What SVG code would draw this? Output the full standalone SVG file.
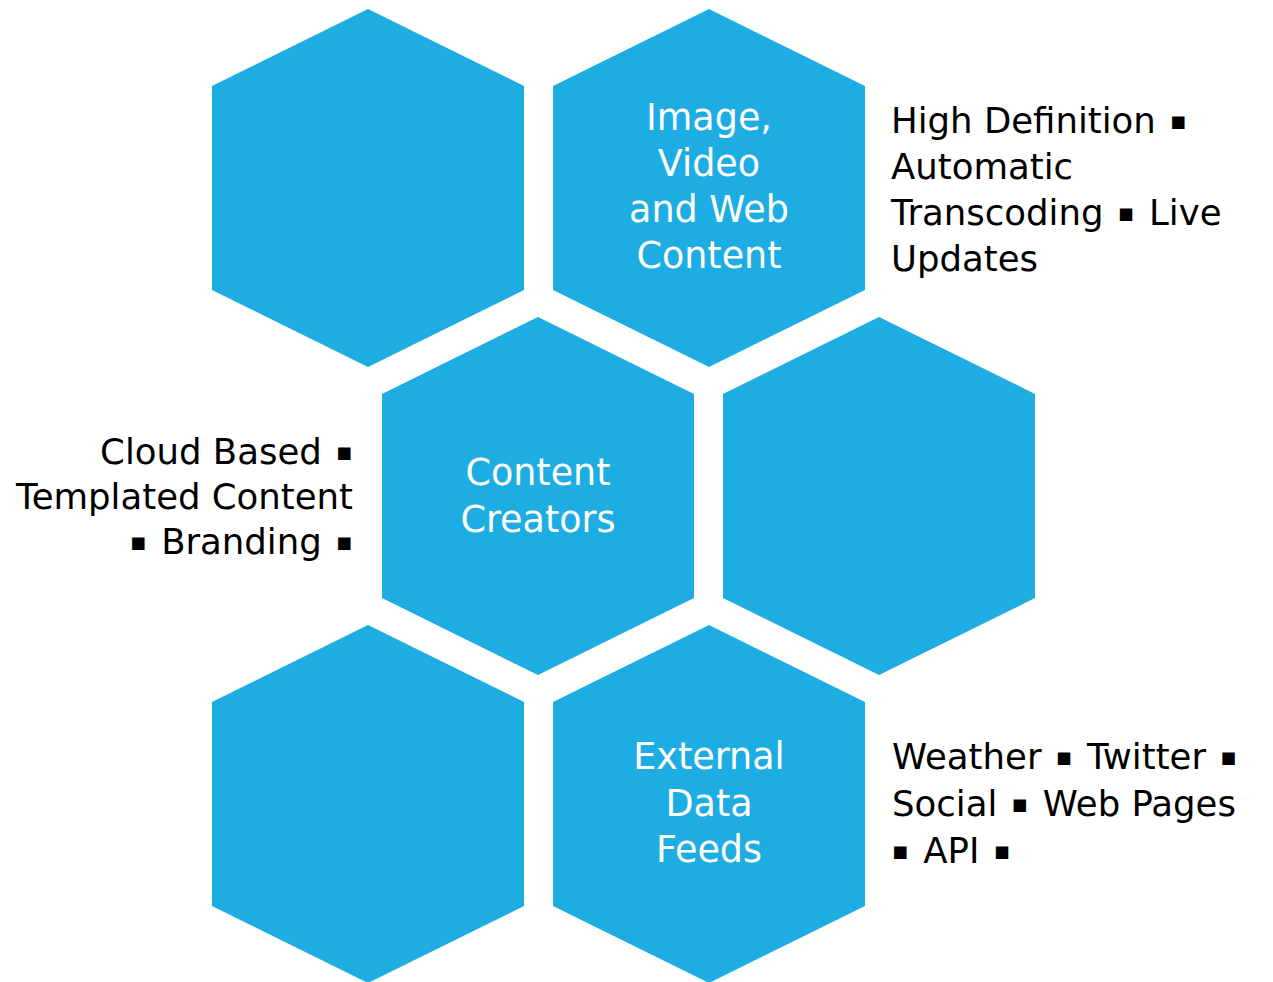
<svg xmlns="http://www.w3.org/2000/svg" width="1273" height="982" viewBox="0 0 1273 982">
<defs>
<style>
.hex{fill:#1EADE3;}
.w{fill:#ffffff;font-family:"DejaVu Sans","Liberation Sans",sans-serif;font-size:36.5px;text-anchor:middle;}
.b{fill:#000000;font-family:"DejaVu Sans","Liberation Sans",sans-serif;font-size:35.5px;}
.e{text-anchor:end;}
.sq{font-size:25px;baseline-shift:4px;}
</style>
<polygon id="hexshape" points="0,0 156,77 156,281 0,358 -156,281 -156,77"/>
</defs>
<rect width="1273" height="982" fill="#ffffff"/>
<g id="connectors"/>
<g id="hex1"><use href="#hexshape" class="hex" x="368" y="9"/></g>
<g id="hex2"><use href="#hexshape" class="hex" x="709" y="9"/>
<text class="w" x="709" y="129.5">Image,</text>
<text class="w" x="709" y="176">Video</text>
<text class="w" x="709" y="222">and Web</text>
<text class="w" x="709" y="268">Content</text>
</g>
<g id="hex3"><use href="#hexshape" class="hex" x="538" y="317"/>
<text class="w" x="538" y="484.5">Content</text>
<text class="w" x="538" y="531.5">Creators</text>
</g>
<g id="hex4"><use href="#hexshape" class="hex" x="879" y="317"/></g>
<g id="hex5"><use href="#hexshape" class="hex" x="368" y="625"/></g>
<g id="hex6"><use href="#hexshape" class="hex" x="709" y="625"/>
<text class="w" x="709" y="769">External</text>
<text class="w" x="709" y="815.5">Data</text>
<text class="w" x="709" y="862">Feeds</text>
</g>
<g id="label-top">
<text class="b" x="891" y="133">High Definition <tspan class="sq" dx="3">▪</tspan></text>
<text class="b" x="891" y="179">Automatic</text>
<text class="b" x="891" y="225">Transcoding <tspan class="sq" dx="3">▪</tspan><tspan dx="3"> Live</tspan></text>
<text class="b" x="891" y="271">Updates</text>
</g>
<g id="label-middle">
<text class="b e" x="353" y="464">Cloud Based <tspan class="sq" dx="3">▪</tspan></text>
<text class="b e" x="353" y="509">Templated Content</text>
<text class="b e" x="353" y="554"><tspan class="sq">▪</tspan><tspan dx="3"> Branding </tspan><tspan class="sq" dx="3">▪</tspan></text>
</g>
<g id="label-bottom">
<text class="b" x="892" y="769">Weather <tspan class="sq" dx="3">▪</tspan><tspan dx="3"> Twitter </tspan><tspan class="sq" dx="3">▪</tspan></text>
<text class="b" x="892" y="816">Social <tspan class="sq" dx="3">▪</tspan><tspan dx="3"> Web Pages</tspan></text>
<text class="b" x="892" y="863"><tspan class="sq">▪</tspan><tspan dx="3"> API </tspan><tspan class="sq" dx="3">▪</tspan></text>
</g>
</svg>
